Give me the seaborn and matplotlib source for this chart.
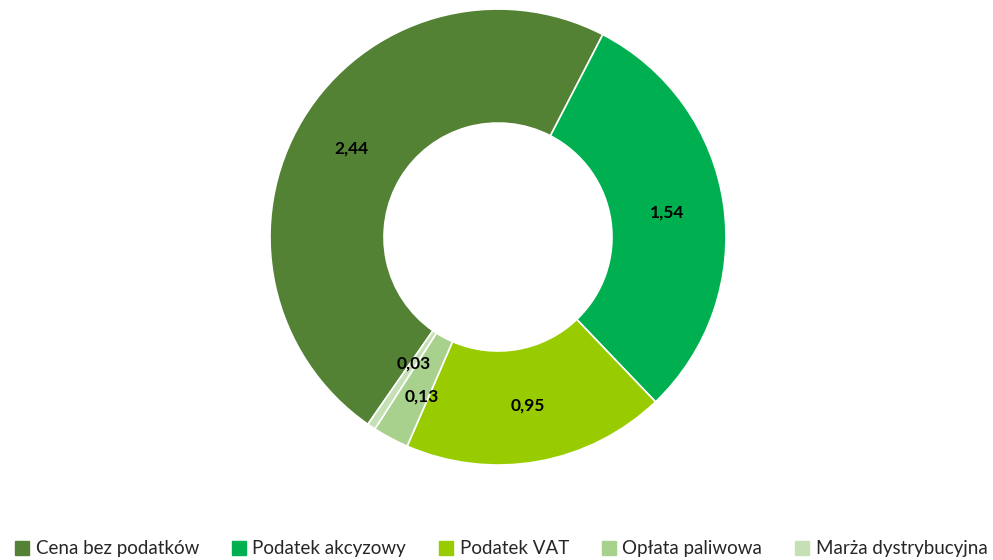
import numpy as np
import matplotlib
matplotlib.use("Agg")
import matplotlib.pyplot as plt
import seaborn as sns

# Struktura ceny paliwa (zł/l)
categories = ["Cena bez podatków", "Podatek akcyzowy", "Podatek VAT", "Opłata paliwowa", "Marża dystrybucyjna"]
values = [2.44, 1.54, 0.95, 0.13, 0.03]
value_labels = ["2,44", "1,54", "0,95", "0,13", "0,03"]
colors = ["#548235", "#00B050", "#99CC00", "#A9D18E", "#C5E0B4"]

sns.set_style("white")
plt.rcParams["font.family"] = ["Lato", "DejaVu Sans"]

fig = plt.figure(figsize=(9.93, 5.6), dpi=100)
ax = fig.add_axes([0.2719, 0.1696, 0.4592, 0.8143])

inner = 0.5
wedges, _ = ax.pie(
    values,
    colors=colors,
    startangle=235.2,
    counterclock=False,
    radius=1.0,
    wedgeprops=dict(width=1 - inner, edgecolor="white", linewidth=1.2),
)
ax.set_xlim(-1, 1)
ax.set_ylim(-1, 1)
ax.set_aspect("equal")

# labels at mid ring radius, small ones nudged like the original
nudge = {3: (0.02, -0.04), 4: (0.045, 0.07)}
r_mid = (1 + inner) / 2
for i, w in enumerate(wedges):
    ang = np.deg2rad((w.theta1 + w.theta2) / 2)
    x, y = r_mid * np.cos(ang), r_mid * np.sin(ang)
    dx, dy = nudge.get(i, (0, 0))
    ax.text(x + dx, y + dy, value_labels[i], ha="center", va="center",
            fontsize=12.5, fontweight="bold", color="black")

handles = [plt.Rectangle((0, 0), 1, 1, color=c) for c in colors]
fig.legend(
    handles, categories,
    loc="lower left", bbox_to_anchor=(0.0, -0.022), ncol=5, frameon=False,
    fontsize=13.5, handlelength=0.75, handleheight=0.75, handletextpad=0.35,
    columnspacing=1.75, borderaxespad=0.4,
)

fig.savefig("out.png", dpi=100)
